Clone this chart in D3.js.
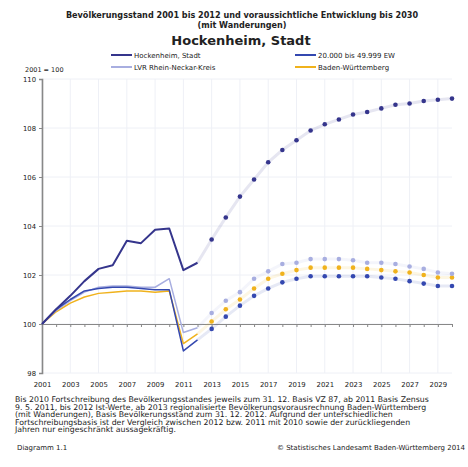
<!DOCTYPE html>
<html>
<head>
<meta charset="utf-8">
<script src="https://cdn.jsdelivr.net/npm/d3@7"></script>
<style>
  body { margin: 0; background: #fff; }
  svg text { font-family: "DejaVu Sans", Verdana, sans-serif; fill: #222; }
</style>
</head>
<body>
<div id="chart"></div>
<script>
// Daten
const jahreIst = [2001, 2002, 2003, 2004, 2005, 2006, 2007, 2008, 2009, 2010, 2011, 2012];
const jahrePrognose = [2013, 2014, 2015, 2016, 2017, 2018, 2019, 2020, 2021, 2022, 2023, 2024, 2025, 2026, 2027, 2028, 2029, 2030];

const hockenheimIst = [100, 100.6, 101.15, 101.75, 102.25, 102.4, 103.4, 103.3, 103.85, 103.9, 102.2, 102.5];
const gemeindeIst = [100, 100.6, 101.0, 101.35, 101.45, 101.5, 101.5, 101.45, 101.4, 101.4, 98.9, 99.35];
const kreisIst = [100, 100.55, 100.95, 101.3, 101.5, 101.55, 101.55, 101.5, 101.5, 101.85, 99.65, 99.85];
const landIst = [100, 100.5, 100.85, 101.1, 101.25, 101.3, 101.35, 101.35, 101.3, 101.35, 99.2, 99.6];

const hockenheimPrognose = [103.45, 104.35, 105.2, 105.9, 106.6, 107.1, 107.5, 107.9, 108.15, 108.35, 108.55, 108.65, 108.8, 108.95, 109.0, 109.1, 109.15, 109.2];
const gemeindePrognose = [99.8, 100.3, 100.75, 101.15, 101.45, 101.7, 101.85, 101.95, 101.95, 101.95, 101.95, 101.95, 101.9, 101.85, 101.75, 101.65, 101.55, 101.55];
const kreisPrognose = [100.45, 100.95, 101.3, 101.85, 102.15, 102.45, 102.5, 102.65, 102.65, 102.65, 102.6, 102.5, 102.5, 102.45, 102.35, 102.25, 102.1, 102.05];
const landPrognose = [100.1, 100.6, 101.0, 101.45, 101.85, 102.05, 102.2, 102.3, 102.3, 102.3, 102.3, 102.25, 102.2, 102.15, 102.1, 102.0, 101.9, 101.9];

const yTicks = [98, 100, 102, 104, 106, 108, 110];
const xLabels = [2001, 2003, 2005, 2007, 2009, 2011, 2013, 2015, 2017, 2019, 2021, 2023, 2025, 2027, 2029];

const serien = [
  { name: "Hockenheim, Stadt", ist: hockenheimIst, prog: hockenheimPrognose, color: "#35358c", w: 2 },
  { name: "20.000 bis 49.999 EW", ist: gemeindeIst, prog: gemeindePrognose, color: "#3448b0", w: 1.5 },
  { name: "LVR Rhein-Neckar-Kreis", ist: kreisIst, prog: kreisPrognose, color: "#a8aee0", w: 1.5 },
  { name: "Baden-Württemberg", ist: landIst, prog: landPrognose, color: "#f0b21c", w: 1.5 }
];

const fussnote = [
  "Bis 2010 Fortschreibung des Bevölkerungsstandes jeweils zum 31. 12. Basis VZ 87, ab 2011 Basis Zensus",
  "9. 5. 2011, bis 2012 Ist-Werte, ab 2013 regionalisierte Bevölkerungsvorausrechnung Baden-Württemberg",
  "(mit Wanderungen), Basis Bevölkerungsstand zum 31. 12. 2012. Aufgrund der unterschiedlichen",
  "Fortschreibungsbasis ist der Vergleich zwischen 2012 bzw. 2011 mit 2010 sowie der zurückliegenden",
  "Jahren nur eingeschränkt aussagekräftig."
];

const svgWidth = 468, svgHeight = 467;

const svg = d3.select("#chart")
  .append("svg")
  .attr("width", svgWidth)
  .attr("height", svgHeight);

const x = d3.scaleLinear().domain([2001, 2030]).range([42, 452]);
const y = d3.scaleLinear().domain([98, 110]).range([373, 79]);

// Gitter
svg.append("g")
  .selectAll("line")
  .data(yTicks)
  .enter().append("line")
  .attr("x1", x(2001)).attr("x2", x(2030))
  .attr("y1", d => y(d)).attr("y2", d => y(d))
  .attr("stroke", "#eef0f6");

svg.append("g")
  .selectAll("line")
  .data(xLabels)
  .enter().append("line")
  .attr("x1", d => x(d)).attr("x2", d => x(d))
  .attr("y1", y(110)).attr("y2", y(98))
  .attr("stroke", "#eef0f6");

// Titel
svg.append("text")
  .attr("x", 242).attr("y", 17.5)
  .attr("text-anchor", "middle")
  .attr("font-size", 8.1).attr("font-weight", "bold")
  .text("Bevölkerungsstand 2001 bis 2012 und voraussichtliche Entwicklung bis 2030");

svg.append("text")
  .attr("x", 242).attr("y", 27.5)
  .attr("text-anchor", "middle")
  .attr("font-size", 8.1).attr("font-weight", "bold")
  .text("(mit Wanderungen)");

svg.append("text")
  .attr("x", 241).attr("y", 45)
  .attr("text-anchor", "middle")
  .attr("font-size", 13).attr("font-weight", "bold")
  .text("Hockenheim, Stadt");

// Legende
const legende = svg.append("g")
  .selectAll("g")
  .data(serien)
  .enter().append("g")
  .attr("transform", (d, i) => `translate(${i % 2 === 0 ? 111 : 295}, ${i < 2 ? 55 : 67})`);

legende.append("line")
  .attr("x1", 0).attr("x2", 21)
  .attr("stroke", d => d.color)
  .attr("stroke-width", 2);

legende.append("text")
  .attr("x", 23).attr("y", 2.5)
  .attr("font-size", 7)
  .text(d => d.name);

svg.append("text")
  .attr("x", 25).attr("y", 72)
  .attr("font-size", 6.5)
  .text("2001 = 100");

// Achsen
const yAxis = svg.append("g")
  .attr("transform", `translate(${x(2001)}, 0)`)
  .call(d3.axisLeft(y).tickValues(yTicks).tickSize(3).tickPadding(3));
yAxis.select(".domain").attr("stroke", "#888").attr("stroke-width", 1.6);
yAxis.selectAll(".tick line").attr("stroke", "#888");
yAxis.selectAll("text").attr("font-size", 6.8).attr("font-family", "DejaVu Sans, sans-serif");

const xAxis = svg.append("g")
  .attr("transform", `translate(0, ${y(100)})`)
  .call(d3.axisBottom(x).tickValues(d3.range(2001, 2031)).tickSize(3).tickFormat(""));
xAxis.select(".domain").attr("stroke", "#888");
xAxis.selectAll(".tick line").attr("stroke", "#888");

const xLabelAxis = svg.append("g")
  .attr("transform", `translate(0, ${y(98)})`)
  .call(d3.axisBottom(x).tickValues(xLabels).tickSize(0).tickPadding(9).tickFormat(d3.format("d")));
xLabelAxis.select(".domain").remove();
xLabelAxis.selectAll("text").attr("font-size", 6.9).attr("font-family", "DejaVu Sans, sans-serif");

// Linien (Ist-Werte)
const linie = d3.line()
  .x(d => x(d[0]))
  .y(d => y(d[1]));

// Prognose: blasse Verbindungslinie
svg.append("g")
  .selectAll("path")
  .data(serien)
  .enter().append("path")
  .attr("d", d => linie([[2012, d.ist[d.ist.length - 1]]].concat(jahrePrognose.map((j, i) => [j, d.prog[i]]))))
  .attr("fill", "none")
  .attr("stroke", d => d.color)
  .attr("stroke-opacity", 0.12)
  .attr("stroke-width", 3);

svg.append("g")
  .selectAll("path")
  .data(serien.slice().reverse())
  .enter().append("path")
  .attr("d", d => linie(jahreIst.map((j, i) => [j, d.ist[i]])))
  .attr("fill", "none")
  .attr("stroke", d => d.color)
  .attr("stroke-width", d => d.w)
  .attr("stroke-linejoin", "round");

// Prognose-Punkte
svg.append("g")
  .selectAll("g")
  .data(serien.slice().reverse())
  .enter().append("g")
  .attr("fill", d => d.color)
  .selectAll("circle")
  .data(d => d.prog.map((v, i) => [jahrePrognose[i], v]))
  .enter().append("circle")
  .attr("cx", d => x(d[0]))
  .attr("cy", d => y(d[1]))
  .attr("r", 2.3);

// Fussnote
svg.append("g")
  .selectAll("text")
  .data(fussnote)
  .enter().append("text")
  .attr("x", 15)
  .attr("y", (d, i) => 402 + i * 7.6)
  .attr("font-size", 7.8)
  .text(d => d);

svg.append("text")
  .attr("x", 17).attr("y", 450)
  .attr("font-size", 7)
  .text("Diagramm 1.1");

svg.append("text")
  .attr("x", 465).attr("y", 450)
  .attr("text-anchor", "end")
  .attr("font-size", 7)
  .text("© Statistisches Landesamt Baden-Württemberg 2014");
</script>
</body>
</html>
